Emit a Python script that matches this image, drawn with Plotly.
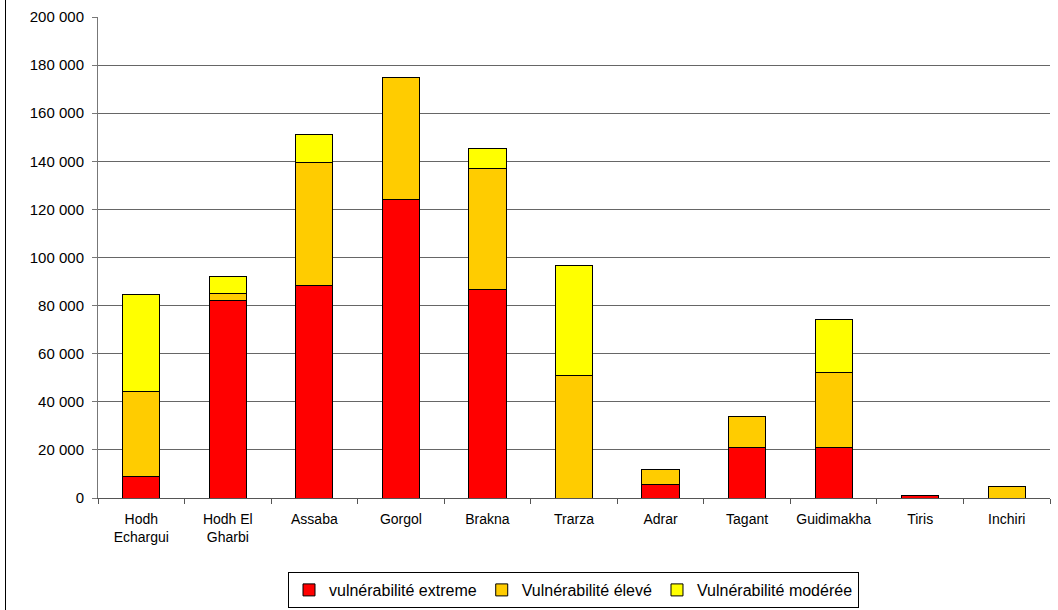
import plotly.graph_objects as go

categories = ["Hodh<br>Echargui", "Hodh El<br>Gharbi", "Assaba", "Gorgol", "Brakna",
              "Trarza", "Adrar", "Tagant", "Guidimakha", "Tiris", "Inchiri"]
extreme = [8900, 82000, 88300, 124200, 86600, 0, 5800, 21200, 21200, 1000, 0]
eleve = [35300, 3100, 51300, 50700, 50600, 51100, 6000, 12600, 31100, 0, 4700]
moderee = [40600, 6900, 11600, 0, 8300, 45500, 0, 0, 21800, 0, 0]

series_names = ["vulnérabilité extreme", "Vulnérabilité élevé", "Vulnérabilité modérée"]
series_colors = ["#FF0000", "#FFCC00", "#FFFF00"]

W, H = 1058, 610
L, R, T, B = 98, 8, 17, 112
pw, ph = W - L - R, H - T - B

fig = go.Figure()
for name, vals, col in zip(series_names, [extreme, eleve, moderee], series_colors):
    fig.add_trace(go.Bar(
        x=categories, y=vals, name=name,
        marker=dict(color=col, line=dict(color="#000000", width=1)),
    ))

def px_x(p):
    return (p - L) / pw

def px_y(p):
    return (H - B - p) / ph

fig.update_layout(
    width=W, height=H,
    barmode="stack", bargap=0.57,
    margin=dict(l=L, r=R, t=T, b=B, pad=0),
    paper_bgcolor="white", plot_bgcolor="white",
    separators=", ",
    font=dict(family="Liberation Sans, Arial, sans-serif", size=14, color="#000000"),
    xaxis=dict(
        showline=True, linecolor="#555555", linewidth=1,
        ticks="outside", ticklen=5, tickcolor="#555555", tickson="boundaries",
        showgrid=False, tickangle=0, tickfont=dict(size=14), ticklabelstandoff=8,
        automargin=False,
    ),
    yaxis=dict(
        range=[0, 200000], dtick=20000, tickformat=",d",
        showline=True, linecolor="#777777", linewidth=1,
        ticks="outside", ticklen=5, tickcolor="#777777",
        showgrid=True, gridcolor="#666666", gridwidth=1,
        zeroline=False, tickfont=dict(size=15), ticklabelstandoff=5,
        automargin=False,
    ),
    legend=dict(
        orientation="h", xref="container", yref="container",
        x=573.5 / W, xanchor="center", y=1 - 572 / H, yanchor="top",
        bordercolor="#000000", borderwidth=1, bgcolor="white",
        font=dict(size=16), itemwidth=30, traceorder="normal",
    ),
    shapes=[
        dict(type="line", xref="paper", yref="paper",
             x0=px_x(5.5), x1=px_x(5.5), y0=px_y(0), y1=px_y(H),
             line=dict(color="#000000", width=1)),
    ],
)

fig.write_html(
    "out.html",
    config={"displayModeBar": False},
    post_script="document.body.style.margin='0';document.body.style.overflow='hidden';",
)
